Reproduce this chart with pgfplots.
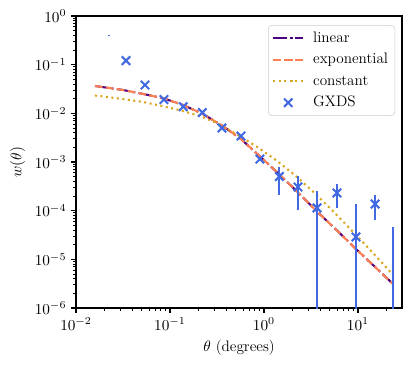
\RequirePackage{fix-cm}
\documentclass[border=0pt]{standalone}
\usepackage{pgfplots}
\pgfplotsset{compat=1.18}
\definecolor{cLin}{HTML}{4B0082}
\definecolor{cExp}{HTML}{FF7F50}
\definecolor{cConst}{HTML}{DAA520}
\definecolor{cData}{HTML}{4169E1}
\newcommand{\figfont}{\fontsize{11}{13.2}\selectfont}

\begin{document}
\begin{tikzpicture}[font=\figfont]
\begin{axis}[
  name=ax,
  scale only axis,
  width=234.72bp, height=210.24bp,
  xmode=log, ymode=log,
  xmin=0.01, xmax=29.4, ymin=1e-6, ymax=1,
  axis line style={line width=0.8bp},
  tick align=outside,
  xtick pos=left, ytick pos=left,
  major tick length=3.5bp, minor tick length=2bp,
  every major tick/.style={black, line width=0.8bp},
  every minor tick/.style={black, line width=0.6bp},
  tick label style={font=\figfont},
  label style={font=\figfont},
  xtick={0.01,0.1,1,10},
  ytick={1e-6,1e-5,1e-4,1e-3,1e-2,1e-1,1},
  minor xtick={0.02,0.03,0.04,0.05,0.06,0.07,0.08,0.09,
               0.2,0.3,0.4,0.5,0.6,0.7,0.8,0.9,
               2,3,4,5,6,7,8,9,20},
  minor ytick={2e-6,3e-6,4e-6,5e-6,6e-6,7e-6,8e-6,9e-6,
               2e-5,3e-5,4e-5,5e-5,6e-5,7e-5,8e-5,9e-5,
               2e-4,3e-4,4e-4,5e-4,6e-4,7e-4,8e-4,9e-4,
               2e-3,3e-3,4e-3,5e-3,6e-3,7e-3,8e-3,9e-3,
               0.02,0.03,0.04,0.05,0.06,0.07,0.08,0.09,
               0.2,0.3,0.4,0.5,0.6,0.7,0.8,0.9},
  xlabel={$\theta$ (degrees)},
  ylabel={$w(\theta)$},
  legend cell align=left,
  legend style={at={(1,1)}, anchor=north east, xshift=-5bp, yshift=-6.5bp,
    draw=black!20, rounded corners=2.5bp, fill=white, fill opacity=0.8,
    text opacity=1, inner xsep=2.8bp, inner ysep=1.5bp, row sep=0bp,
    column sep=4.4bp, font=\figfont,
    nodes={inner xsep=2bp, inner ysep=2.25bp, text height=8.3bp, text depth=2.7bp}},
  legend image code/.code={%
    \draw[mark repeat=2, mark phase=2, #1]
      plot coordinates {(0bp,0bp) (10.8bp,0bp) (21.6bp,0bp)};},
]

\addplot[cLin, line width=1.5bp, dash pattern=on 9.6bp off 2.4bp on 1.5bp off 2.4bp] coordinates {
  (0.0159,0.0365) (0.0316,0.0302) (0.0542,0.0246) (0.0863,0.0202) (0.1374,0.01484)
  (0.2188,0.00993) (0.357,0.00563) (0.569,0.00297) (0.906,0.00130) (1.445,5.67e-4)
  (2.30,2.36e-4) (3.67,9.6e-5) (5.98,3.92e-5) (9.52,1.63e-5) (15.2,6.97e-6)
  (23.6,3.12e-6)
};
\addlegendentry{linear}

\addplot[cExp, line width=1.5bp, dash pattern=on 5.55bp off 2.4bp] coordinates {
  (0.0159,0.0365) (0.0316,0.0302) (0.0542,0.0246) (0.0863,0.0202) (0.1374,0.01484)
  (0.2188,0.00993) (0.357,0.00563) (0.569,0.00297) (0.906,0.00130) (1.445,5.67e-4)
  (2.30,2.36e-4) (3.67,9.6e-5) (5.98,3.92e-5) (9.52,1.63e-5) (15.2,6.97e-6)
  (23.6,3.12e-6)
};
\addlegendentry{exponential}

\addplot[cConst, line width=1.5bp, dash pattern=on 1.5bp off 2.475bp] coordinates {
  (0.0159,0.0233) (0.0316,0.0197) (0.0516,0.0171) (0.0822,0.0142) (0.131,0.01144)
  (0.2085,0.0088) (0.332,0.00604) (0.528,0.00359) (0.843,0.00205) (1.342,0.001096)
  (2.138,5.35e-4) (3.41,2.36e-4) (5.42,9.8e-5) (8.63,3.87e-5) (13.7,1.51e-5)
  (23.0,5.07e-6)
};
\addlegendentry{constant}

\addplot[cData, only marks, mark=x, mark size=4.3bp, line width=1.5bp,
  error bars/.cd, y dir=both, y explicit, error mark=none,
  error bar style={line width=1.5bp, cData}] coordinates {
  (0.0340,0.121)
  (0.0542,0.0382)
  (0.0863,0.0192)
  (0.1384,0.01368)
  (0.2207,0.0104)
  (0.357,0.0050)
  (0.569,0.00342)
  (0.906,0.00115) += (0,1.0e-4) -= (0,1.0e-4)
  (1.456,5.04e-4) += (0,2.9e-4) -= (0,2.9e-4)
  (2.30,3.07e-4) += (0,2.06e-4) -= (0,2.06e-4)
  (3.67,1.14e-4) += (0,1.40e-4) -= (0,1.1399e-4)
  (5.98,2.31e-4) += (0,1.2e-4) -= (0,1.2e-4)
  (9.52,2.88e-5) += (0,1.08e-4) -= (0,2.8799e-5)
  (15.2,1.37e-4) += (0,7.3e-5) -= (0,7.3e-5)
};
\addlegendentry{GXDS}

% bins whose point lies off the log scale: only the bar shows
\addplot[cData, line width=1.5bp, forget plot] coordinates {(23.8,1e-9) (23.8,4.69e-5)};
\addplot[cData, line width=1.5bp, forget plot] coordinates {(0.0226,0.400) (0.0226,0.415)};
\end{axis}
\pgfresetboundingbox
\path[use as bounding box] ([xshift=-54.72bp, yshift=-42.48bp] ax.south west)
  rectangle ([xshift=9.36bp, yshift=11.52bp] ax.north east);
\end{tikzpicture}
\end{document}
